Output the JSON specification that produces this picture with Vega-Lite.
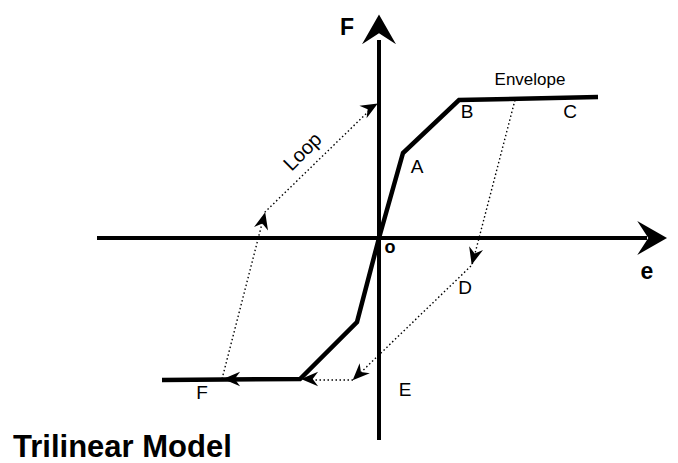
{
  "$schema": "https://vega.github.io/schema/vega-lite/v6.json",
  "width": 678,
  "height": 463,
  "padding": 0,
  "autosize": {"type": "fit", "contains": "padding"},
  "background": "white",
  "config": {"view": {"stroke": null}},
  "datasets": {
    "curves": [
      {"path": "env_pos", "ord": 0, "e": 0, "F": 0},
      {"path": "env_pos", "ord": 1, "e": 2.4, "F": 8.5},
      {"path": "env_pos", "ord": 2, "e": 8.0, "F": 13.8},
      {"path": "env_pos", "ord": 3, "e": 21.9, "F": 14.1},
      {"path": "env_neg", "ord": 0, "e": 0, "F": 0},
      {"path": "env_neg", "ord": 1, "e": -2.2, "F": -8.4},
      {"path": "env_neg", "ord": 2, "e": -7.9, "F": -14.1},
      {"path": "env_neg", "ord": 3, "e": -21.7, "F": -14.2}
    ],
    "loops": [
      {"path": "loop_right", "ord": 0, "e": 13.6, "F": 13.8},
      {"path": "loop_right", "ord": 1, "e": 9.3, "F": -2.7},
      {"path": "loop_right", "ord": 2, "e": -2.6, "F": -14.2},
      {"path": "loop_right", "ord": 3, "e": -7.0, "F": -14.2},
      {"path": "loop_left", "ord": 0, "e": -15.7, "F": -14.1},
      {"path": "loop_left", "ord": 1, "e": -11.4, "F": 2.6},
      {"path": "loop_left", "ord": 2, "e": -0.6, "F": 13.1}
    ],
    "axes": [
      {"axis": "e", "e": -28.2, "e2": 26.8, "F": 0, "F2": 0},
      {"axis": "F", "e": 0, "e2": 0, "F": -20.2, "F2": 19.8}
    ],
    "axisHeads": [
      {"axis": "F", "e": 0, "F": 20.65, "dir": 0},
      {"axis": "e", "e": 27.1, "F": 0, "dir": 90}
    ],
    "loopHeads": [
      {"e": -11.6, "F": 1.7, "dir": 14},
      {"e": -0.9, "F": 13.0, "dir": 60},
      {"e": 9.5, "F": -1.8, "dir": 195},
      {"e": -2.0, "F": -13.6, "dir": 225},
      {"e": -6.9, "F": -14.1, "dir": 270},
      {"e": -14.7, "F": -14.1, "dir": 270}
    ],
    "labels": [
      {"text": "A", "e": 3.8, "F": 7.1},
      {"text": "B", "e": 8.8, "F": 12.6},
      {"text": "C", "e": 19.1, "F": 12.6},
      {"text": "D", "e": 8.6, "F": -5.0},
      {"text": "E", "e": 2.6, "F": -15.2},
      {"text": "F", "e": -17.7, "F": -15.5}
    ],
    "origin": [{"text": "o", "e": 1.1, "F": -1.0}],
    "envelope": [{"text": "Envelope", "e": 15.1, "F": 15.8}],
    "loopLabel": [{"text": "Loop", "e": -7.6, "F": 8.6}],
    "axisLabels": [
      {"text": "F", "e": -3.2, "F": 21.0},
      {"text": "e", "e": 26.8, "F": -3.4}
    ],
    "title": [{"text": "Trilinear Model", "e": -36.6, "F": -21.9}]
  },
  "encoding": {
    "x": {"field": "e", "type": "quantitative", "scale": {"domain": [-37.9, 29.9], "nice": false, "zero": false}, "axis": null},
    "y": {"field": "F", "type": "quantitative", "scale": {"domain": [-22.5, 23.8], "nice": false, "zero": false}, "axis": null}
  },
  "layer": [
    {
      "data": {"name": "axes"},
      "mark": {"type": "rule", "color": "black", "strokeWidth": 4},
      "encoding": {
        "x2": {"field": "e2"},
        "y2": {"field": "F2"},
        "detail": {"field": "axis"}
      }
    },
    {
      "data": {"name": "axisHeads"},
      "mark": {"type": "point", "shape": "M0,-1 L1,0.75 L0,0.1 L-1,0.75 Z", "filled": true, "color": "black", "opacity": 1, "size": 1156, "strokeWidth": 0},
      "encoding": {
        "angle": {"field": "dir", "type": "quantitative", "scale": null}
      }
    },
    {
      "data": {"name": "loops"},
      "mark": {"type": "line", "color": "black", "strokeWidth": 1.4, "strokeDash": [1.5, 2.5]},
      "encoding": {
        "detail": {"field": "path"},
        "order": {"field": "ord", "type": "quantitative"}
      }
    },
    {
      "data": {"name": "curves"},
      "mark": {"type": "line", "color": "black", "strokeWidth": 4.5, "strokeJoin": "miter"},
      "encoding": {
        "detail": {"field": "path"},
        "order": {"field": "ord", "type": "quantitative"}
      }
    },
    {
      "data": {"name": "loopHeads"},
      "mark": {"type": "point", "shape": "M0,-1 L0.8,0.9 L0,0.3 L-0.8,0.9 Z", "filled": true, "color": "black", "opacity": 1, "size": 324, "strokeWidth": 0},
      "encoding": {
        "angle": {"field": "dir", "type": "quantitative", "scale": null}
      }
    },
    {
      "data": {"name": "labels"},
      "mark": {"type": "text", "font": "Liberation Sans", "fontSize": 19, "color": "black", "align": "center", "baseline": "middle"},
      "encoding": {"text": {"field": "text"}}
    },
    {
      "data": {"name": "origin"},
      "mark": {"type": "text", "font": "Liberation Sans", "fontSize": 18, "fontWeight": "bold", "color": "black", "align": "center", "baseline": "middle"},
      "encoding": {"text": {"field": "text"}}
    },
    {
      "data": {"name": "envelope"},
      "mark": {"type": "text", "font": "Liberation Sans", "fontSize": 17, "color": "black", "align": "center", "baseline": "middle"},
      "encoding": {"text": {"field": "text"}}
    },
    {
      "data": {"name": "loopLabel"},
      "mark": {"type": "text", "font": "Liberation Sans", "fontSize": 20, "color": "black", "align": "center", "baseline": "middle", "angle": -45},
      "encoding": {"text": {"field": "text"}}
    },
    {
      "data": {"name": "axisLabels"},
      "mark": {"type": "text", "font": "Liberation Sans", "fontSize": 23, "fontWeight": "bold", "color": "black", "align": "center", "baseline": "middle"},
      "encoding": {"text": {"field": "text"}}
    },
    {
      "data": {"name": "title"},
      "mark": {"type": "text", "font": "Liberation Sans", "fontSize": 31, "fontWeight": "bold", "color": "black", "align": "left", "baseline": "alphabetic"},
      "encoding": {"text": {"field": "text"}}
    }
  ]
}
